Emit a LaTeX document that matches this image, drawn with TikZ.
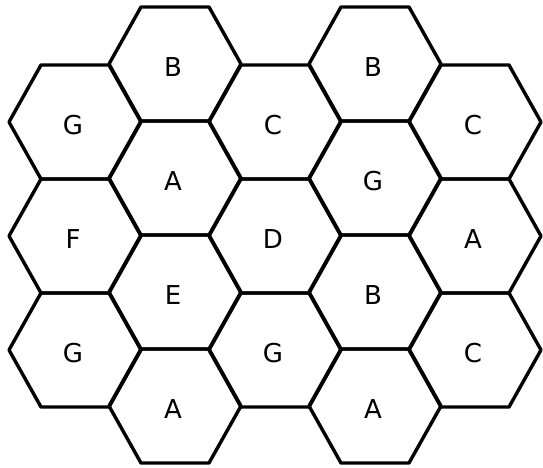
\documentclass[tikz,border=0pt]{standalone}
\usepackage{fontspec}
\setmainfont{DejaVu Sans}
\begin{document}
\begin{tikzpicture}[x=1pt, y=-1pt,
  cell/.style={draw=black, line width=3.4pt, line join=round},
  tag/.style={font=\fontsize{26}{31}\selectfont, inner sep=0pt}]
\useasboundingbox (0,0) rectangle (543,468);
% one hexagon per cell: centre x / centre y / letter / name
\foreach \cx/\cy/\txt/\nm in {
  75/122/G/g1, 75/236/F/f1, 75/350/G/g2,
  175/64/B/b1, 175/178/A/a1, 175/292/E/e1, 175/406/A/a2,
  275/122/C/c1, 275/236/D/d1, 275/350/G/g3,
  375/64/B/b2, 375/178/G/g4, 375/292/B/b3, 375/406/A/a3,
  475/122/C/c2, 475/236/A/a4, 475/350/C/c3}{
  \draw[cell] (\cx-66,\cy) -- (\cx-34,\cy-57) -- (\cx+34,\cy-57) -- (\cx+66,\cy)
    -- (\cx+34,\cy+57) -- (\cx-34,\cy+57) -- cycle;
  \node[tag] (\nm) at (\cx-2,\cy+3) {\txt};
}
\end{tikzpicture}
\end{document}
